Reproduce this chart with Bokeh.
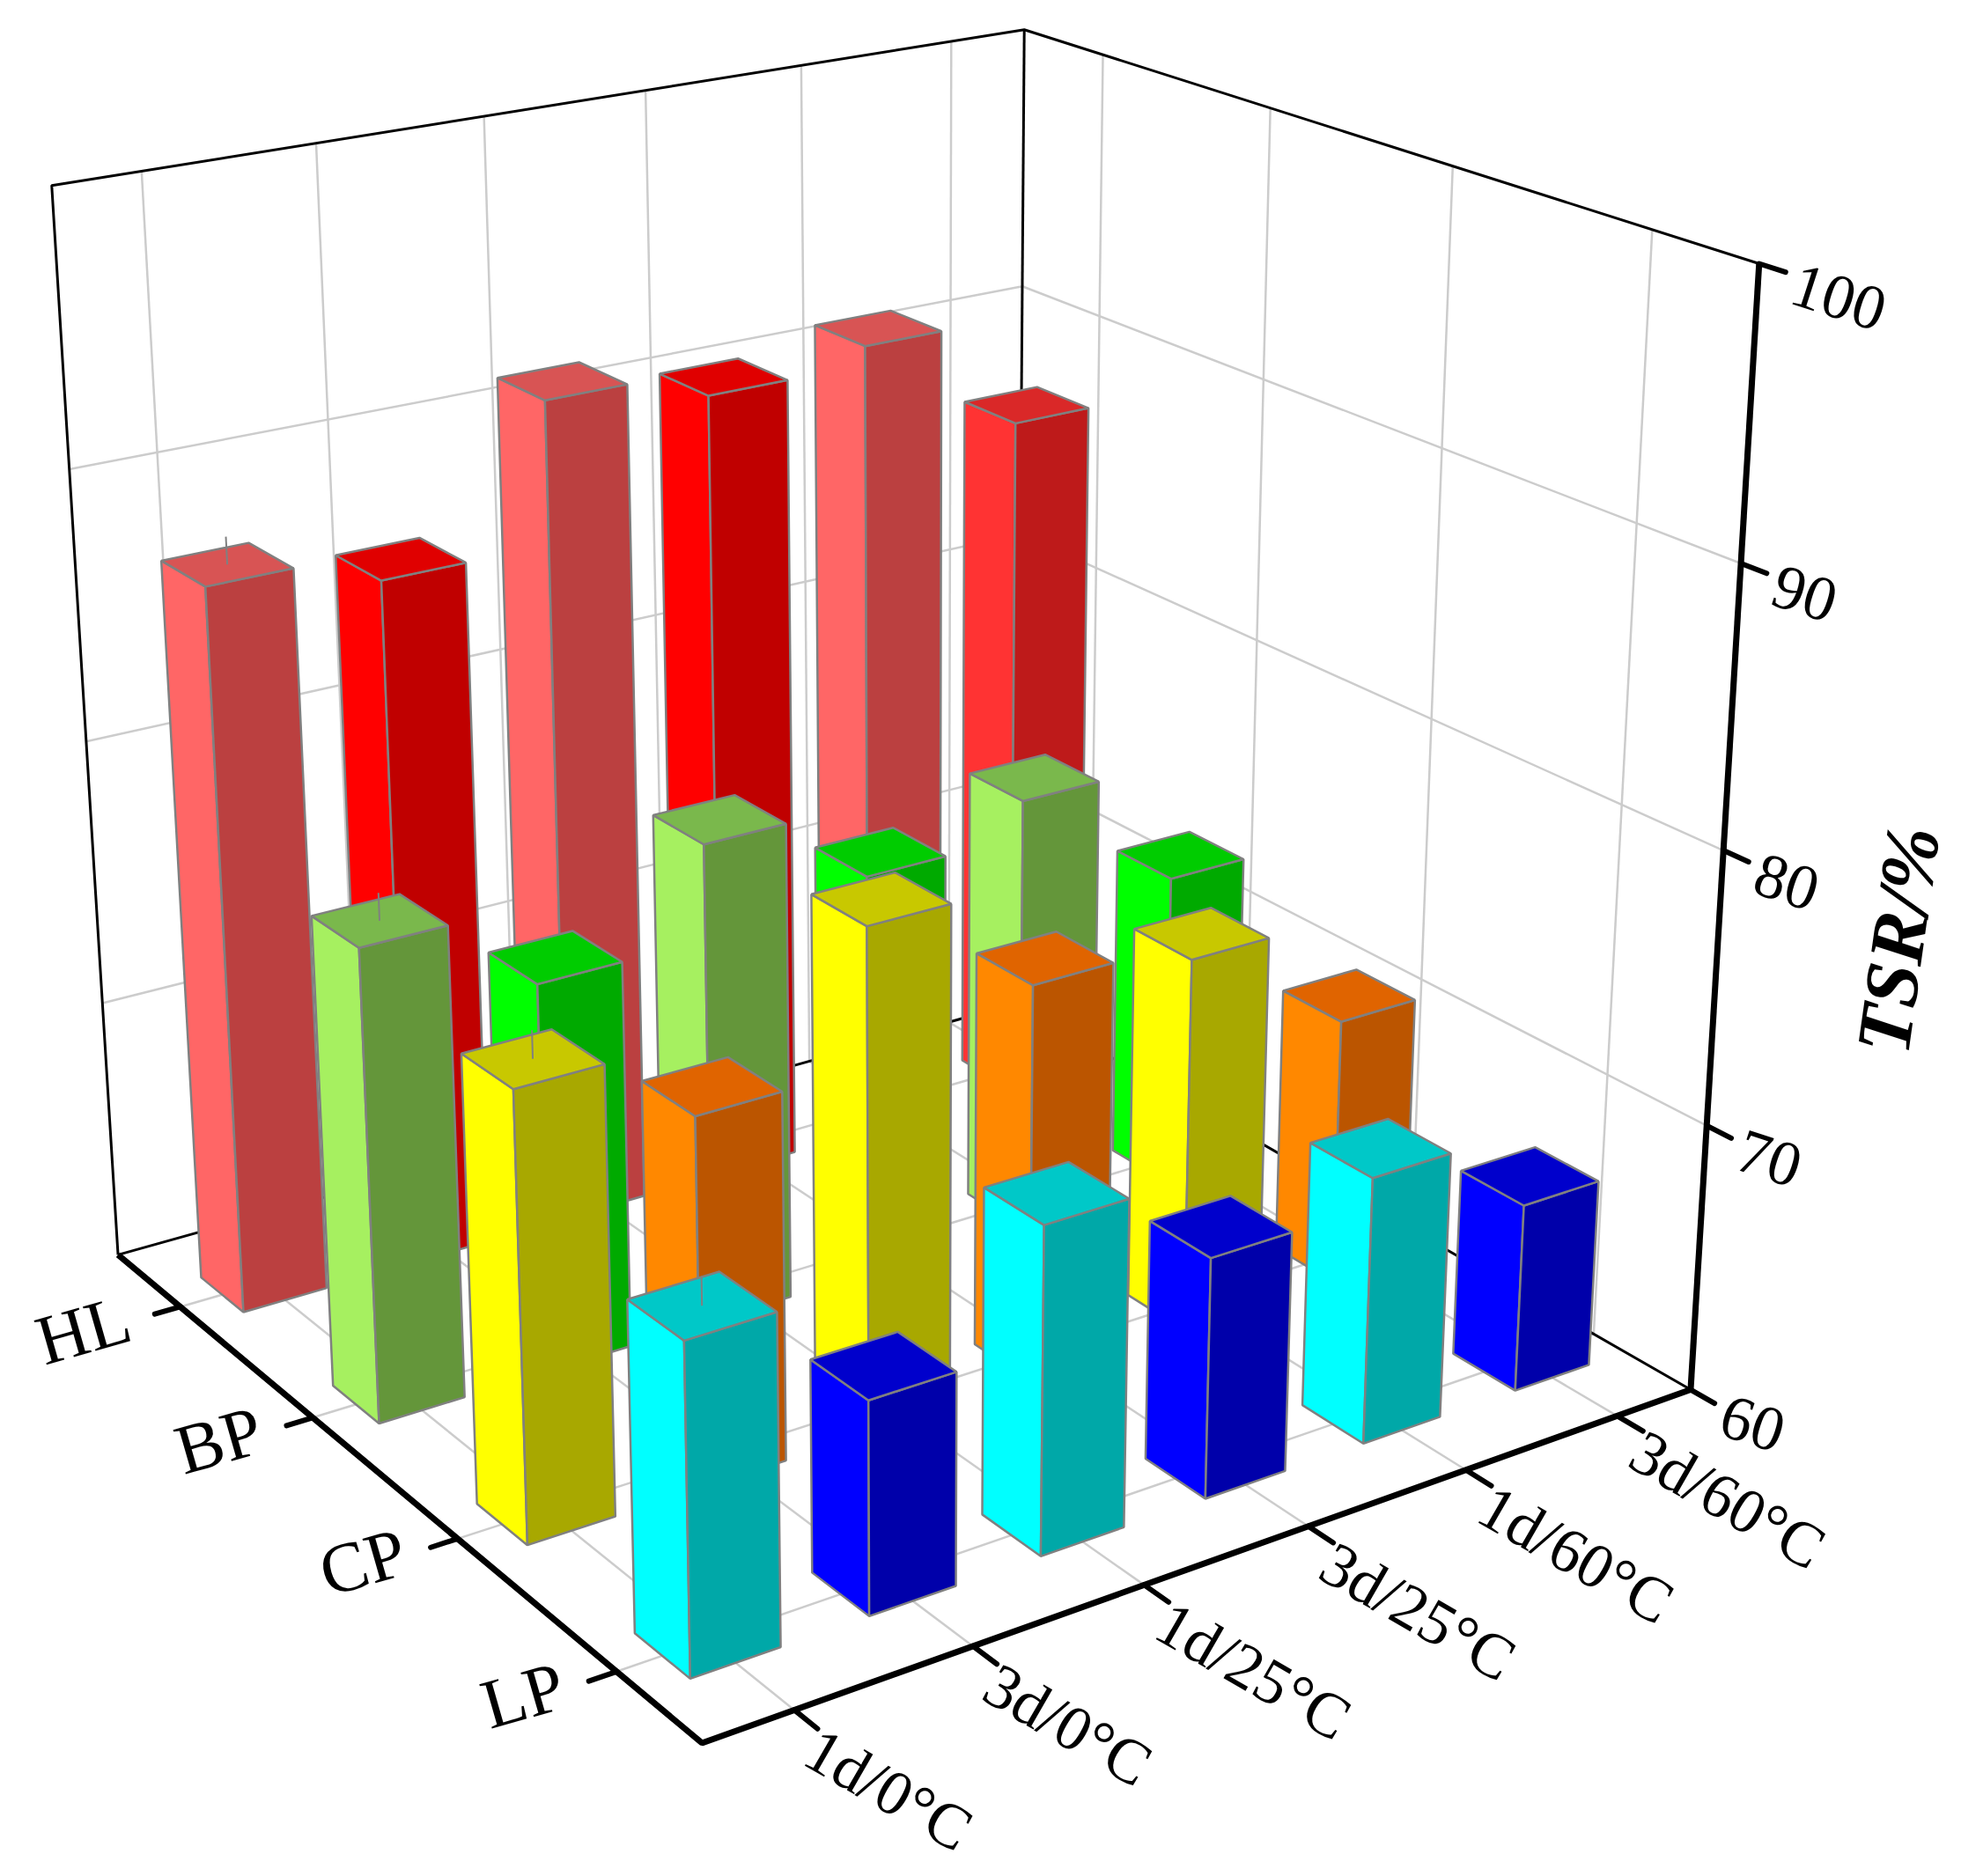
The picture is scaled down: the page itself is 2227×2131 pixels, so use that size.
import numpy as np
from bokeh.plotting import figure
from bokeh.models import Range1d
from bokeh.core.properties import value
from bokeh.embed import file_html
from bokeh.resources import INLINE

rows = ["HL", "BP", "CP", "LP"]
cols = ["1d/0°C", "3d/0°C", "1d/25°C", "3d/25°C", "1d/60°C", "3d/60°C"]
zticks = [60, 70, 80, 90, 100]
HL = [87.3, 86.2, 91.5, 90.5, 91.2, 87.1]
BP = [77.6, 74.65, 78.2, 75.45, 76.8, 72.25]
CP = [76.3, 73.6, 78.65, 74.9, 74.2, 70.2]
LP = [71.75, 67.7, 71.9, 68.85, 69.9, 67.05]
errs = [1, 0, 0, 0, 0, 0]
data = {"HL": HL, "BP": BP, "CP": CP, "LP": LP}

palette = {
 "HL": [("#FF6666","#D85454","#BB4040"),("#FF0000","#E00000","#C00000")]*2+[("#FF6666","#D85454","#BB4040"),("#FF3333","#DA2828","#BE1A1A")],
 "BP": [("#A6F060","#7AB84C","#64963A"),("#00FF00","#00CC00","#00AA00")]*3,
 "CP": [("#FFFF00","#C8C800","#A8A800"),("#FF8800","#E06400","#BB5500")]*3,
 "LP": [("#00FFFF","#00C8C8","#00A8A8"),("#0000FF","#0000CC","#0000AA")]*3,
}

# camera calibration (unit cube corners -> page)
cal3 = [(0,0,0),(6,0,0),(6,4,0),(0,4,0),(0,0,1),(6,0,1),(6,4,1)]
cal2 = [(136,1423),(1151,1143),(1923,1573),(794,1982),(58,210),(1164,31),(1996,302)]
A = []
for (X,Y,Z),(u,v) in zip(cal3,cal2):
    A.append([X,Y,Z,1,0,0,0,0,-u*X,-u*Y,-u*Z,-u])
    A.append([0,0,0,0,X,Y,Z,1,-v*X,-v*Y,-v*Z,-v])
P = np.linalg.svd(np.array(A,float))[2][-1].reshape(3,4)
def pr(x,y,val):
    z=(val-60)/40
    h=P@np.array([x,y,z,1.0])
    return h[0]/h[2],h[1]/h[2]
def line(p,pts,color,w,cap="butt"):
    q=[pr(*a) for a in pts]
    p.line([a[0] for a in q],[a[1] for a in q],line_color=color,line_width=w,line_cap=cap)

WX,WY=0.25,0.165

p=figure(width=2227,height=2131,x_range=Range1d(0,2227),y_range=Range1d(2131,0),
         output_backend="svg",toolbar_location=None,min_border=0,outline_line_color=None)
p.axis.visible=False; p.grid.visible=False
G="#CCCCCC"
for i in range(6):
    line(p,[(i+.5,0,60),(i+.5,4,60)],G,2.5)
    line(p,[(i+.5,0,60),(i+.5,0,100)],G,2.5)
for j in range(4):
    line(p,[(0,j+.5,60),(6,j+.5,60)],G,2.5)
    line(p,[(6,j+.5,60),(6,j+.5,100)],G,2.5)
for t in zticks[1:-1]:
    line(p,[(0,0,t),(6,0,t),(6,4,t)],G,2.5)
for seg in [[(0,0,60),(0,0,100),(6,0,100),(6,4,100)],[(6,0,100),(6,0,60)],[(0,0,60),(6,0,60),(6,4,60)]]:
    line(p,seg,"black",3)
for j,r in enumerate(rows):
    for i in range(5,-1,-1):
        v=data[r][i]
        cx,cy=i+.5,j+.5
        x0,x1,y0,y1=cx-WX,cx+WX,cy-WY,cy+WY
        cl,ct,cr=palette[r][i]
        faces=[([(x0,y0,60),(x0,y1,60),(x0,y1,v),(x0,y0,v)],cl),
               ([(x0,y1,60),(x1,y1,60),(x1,y1,v),(x0,y1,v)],cr),
               ([(x0,y0,v),(x1,y0,v),(x1,y1,v),(x0,y1,v)],ct)]
        for pts,c in faces:
            q=[pr(*a) for a in pts]
            p.patch([a[0] for a in q],[a[1] for a in q],fill_color=c,line_color="#808080",line_width=2.5)
        if errs[i]>0:
            line(p,[(cx,cy,v),(cx,cy,v+errs[i])],"#808080",2)
# axes
line(p,[(0,0,60),(0,4,60),(6,4,60)],"black",7)
line(p,[(6,4,60),(6,4,100)],"black",7)
F=value("Liberation Serif")
ANG=np.deg2rad
for i,c in enumerate(cols):
    line(p,[(i+.5,4,60),(i+.5,4.13,60)],"black",6,"round")
    a=pr(i+.5,4.13,60)
    p.text([a[0]-8],[a[1]+18],text=[c],text_font=F,text_font_size="72px",text_align="left",text_baseline="middle",angle=ANG(-30))
for j,r in enumerate(rows):
    line(p,[(0,j+.5,60),(-.15,j+.5,60)],"black",6,"round")
    a=pr(-.15,j+.5,60)
    p.text([a[0]-30],[a[1]+3],text=[r],text_font=F,text_font_size="80px",text_align="right",text_baseline="middle",angle=ANG(16))
for t in zticks:
    line(p,[(6,4,t),(6,4.12,t)],"black",6,"round")
    a=pr(6,4.12,t)
    p.text([a[0]+9],[a[1]+12],text=[str(t)],text_font=F,text_font_size="72px",text_align="left",text_baseline="middle",angle=ANG(-18))
p.text([2155],[1067],text=["TSR/%"],text_font=F,text_font_style="bold italic",text_font_size="88px",text_align="center",text_baseline="middle",angle=ANG(82))
open("out.html","w").write(file_html(p,INLINE))
